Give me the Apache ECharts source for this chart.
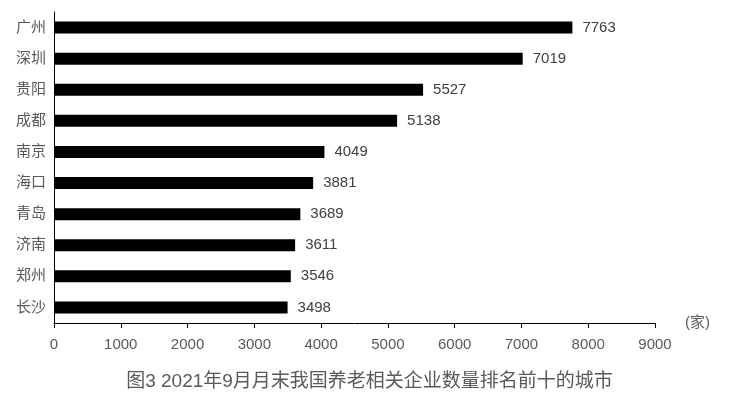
<!DOCTYPE html>
<html lang="zh">
<head>
<meta charset="UTF-8">
<script src="https://cdn.jsdelivr.net/npm/echarts@6/dist/echarts.min.js"></script>
<style>
  body { margin: 0; background: #fff; }
  #chart { width: 739px; height: 404px; }
</style>
</head>
<body>
<div id="chart"></div>
<script>
  // 城市与企业数量
  const cities = ['广州', '深圳', '贵阳', '成都', '南京', '海口', '青岛', '济南', '郑州', '长沙'];
  const counts = [7763, 7019, 5527, 5138, 4049, 3881, 3689, 3611, 3546, 3498];

  const chart = echarts.init(document.getElementById('chart'));
  const font = '"Liberation Sans", "Noto Sans CJK SC", sans-serif';

  chart.setOption({
    animation: false,
    grid: { left: 54, right: 84, top: 12, bottom: 81 },
    title: {
      text: '图3 2021年9月月末我国养老相关企业数量排名前十的城市',
      left: 'center', bottom: 8,
      textStyle: { fontSize: 19, fontWeight: 'normal', color: '#595959', fontFamily: font }
    },
    xAxis: {
      type: 'value', min: 0, max: 9000, interval: 1000,
      name: '(家)', nameGap: 30, nameLocation: 'end',
      nameTextStyle: { fontSize: 15, color: '#595959', fontFamily: font, verticalAlign: 'middle' },
      axisLine: { show: true, lineStyle: { color: '#000' } },
      axisTick: { show: true, length: 5, lineStyle: { color: '#000' } },
      splitLine: { show: false },
      axisLabel: { fontSize: 15, color: '#595959', margin: 14, fontFamily: font, formatter: v => String(v) }
    },
    yAxis: {
      type: 'category', data: cities, inverse: true,
      axisLine: { show: true, lineStyle: { color: '#000' } },
      axisTick: { show: false },
      axisLabel: { fontSize: 15, color: '#595959', margin: 8, fontFamily: font }
    },
    series: [{
      type: 'bar', data: counts, barWidth: 12,
      itemStyle: { color: '#000' },
      label: { show: true, position: 'right', distance: 10, fontSize: 15, color: '#404040', fontFamily: font, formatter: p => String(p.value) }
    }]
  });
</script>
</body>
</html>
